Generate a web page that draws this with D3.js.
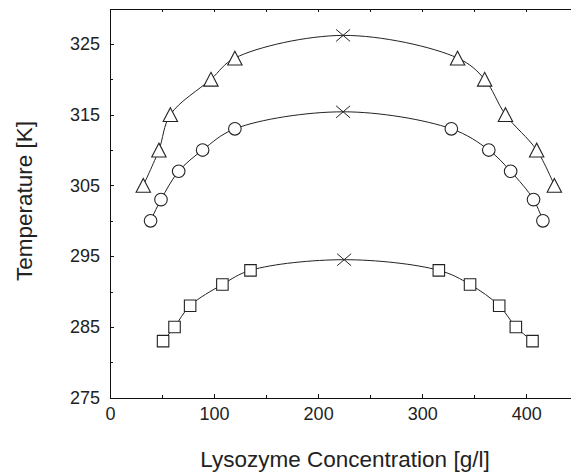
<!DOCTYPE html>
<html>
<head>
<meta charset="utf-8">
<script src="https://cdn.jsdelivr.net/npm/d3@7"></script>
<style>
  body { margin: 0; background: #fff; }
  svg { display: block; font-family: "Liberation Sans", Arial, Helvetica, sans-serif; }
  .axis path, .axis line { stroke: #111; stroke-width: 1; shape-rendering: crispEdges; }
  .axis text { fill: #222; font-size: 18px; }
  .curve { fill: none; stroke: #222; stroke-width: 1; }
  .marker { fill: #fff; stroke: #222; stroke-width: 1.1; }
  .title { fill: #222; font-size: 22.5px; }
</style>
</head>
<body>
<div id="chart"></div>
<script>

// Data: lysozyme concentration [g/l] vs temperature [K]
var triangleConc = [32, 47, 58, 97, 120, 334, 360, 380, 410, 427];
var triangleTemp = [305, 310, 315, 320, 323, 323, 320, 315, 310, 305];

var circleConc = [39, 49, 66, 89, 120, 328, 364, 385, 407, 416];
var circleTemp = [300, 303, 307, 310, 313, 313, 310, 307, 303, 300];

var squareConc = [51, 62, 77, 108, 135, 316, 346, 374, 390, 406];
var squareTemp = [283, 285, 288, 291, 293, 293, 291, 288, 285, 283];

// critical points (crosses), one per curve: triangles, circles, squares
var criticalConc = [224, 224, 225];
var criticalTemp = [326.2, 315.4, 294.5];

var xTicks = [0, 100, 200, 300, 400];
var xMinorTicks = [50, 150, 250, 350];
var yTicks = [275, 285, 295, 305, 315, 325];
var yMinorTicks = [280, 290, 300, 310, 320];

var width = 571, height = 473;
var margin = { top: 8.5, right: 0, bottom: 75, left: 110 };

var svg = d3.select("#chart").append("svg")
    .attr("width", width)
    .attr("height", height);

// Scales
var x = d3.scaleLinear()
    .domain([0, 443])
    .range([margin.left, width - margin.right]);

var y = d3.scaleLinear()
    .domain([275, 330])
    .range([height - margin.bottom - 0.3, margin.top]);

// Axes (ticks point inward)
var xAxis = d3.axisBottom(x).tickValues(xTicks).tickSizeInner(-4).tickSizeOuter(0).tickPadding(10);
var xMinor = d3.axisBottom(x).tickValues(xMinorTicks).tickSizeInner(-2.5).tickSizeOuter(0).tickFormat("");
var xTop = d3.axisTop(x).tickValues(xTicks.concat(xMinorTicks)).tickSizeInner(-3).tickSizeOuter(0).tickFormat("");
var yAxis = d3.axisLeft(y).tickValues(yTicks).tickSizeInner(-4).tickSizeOuter(0).tickPadding(10);
var yMinor = d3.axisLeft(y).tickValues(yMinorTicks).tickSizeInner(-3).tickSizeOuter(0).tickFormat("");

var x0 = margin.left, yBottom = y(275), yTopPx = y(330);

svg.append("g").attr("class", "axis").attr("transform", "translate(0," + yBottom + ")").call(xAxis);
svg.append("g").attr("class", "axis").attr("transform", "translate(0," + yBottom + ")").call(xMinor);
svg.append("g").attr("class", "axis").attr("transform", "translate(0," + yTopPx + ")").call(xTop);
svg.append("g").attr("class", "axis").attr("transform", "translate(" + x0 + ",0)").call(yAxis);
svg.append("g").attr("class", "axis").attr("transform", "translate(" + x0 + ",0)").call(yMinor);

svg.selectAll(".axis .domain").attr("fill", "none");

// Curves through the data and the critical point
function seriesPoints(conc, temp, i) {
    var pts = conc.map(function(c, j) { return { x: c, y: temp[j] }; });
    pts.push({ x: criticalConc[i], y: criticalTemp[i] });
    pts.sort(function(a, b) { return a.x - b.x; });
    return pts;
}

var series = [
    { conc: triangleConc, temp: triangleTemp, shape: "triangle" },
    { conc: circleConc, temp: circleTemp, shape: "circle" },
    { conc: squareConc, temp: squareTemp, shape: "square" }
];

var line = d3.line()
    .x(function(d) { return x(d.x); })
    .y(function(d) { return y(d.y); })
    .curve(d3.curveCatmullRom.alpha(0.5));

series.forEach(function(s, i) {
    svg.append("path")
        .attr("class", "curve")
        .attr("d", line(seriesPoints(s.conc, s.temp, i)));
});

// Marker shapes
var shapes = {
    triangle: "M0,-6.9L7.2,6.9L-7.2,6.9Z",
    square: "M-5.75,-5.75H5.75V5.75H-5.75Z"
};

series.forEach(function(s) {
    var pts = s.conc.map(function(c, j) { return { x: c, y: s.temp[j] }; });
    var g = svg.append("g");
    if (s.shape === "circle") {
        g.selectAll("circle").data(pts).enter().append("circle")
            .attr("class", "marker")
            .attr("cx", function(d) { return x(d.x); })
            .attr("cy", function(d) { return y(d.y); })
            .attr("r", 6.3);
    } else {
        g.selectAll("path").data(pts).enter().append("path")
            .attr("class", "marker")
            .attr("d", shapes[s.shape])
            .attr("transform", function(d) { return "translate(" + x(d.x) + "," + y(d.y) + ")"; });
    }
});

// Crosses at the critical points
svg.selectAll(".cross").data(criticalConc).enter().append("path")
    .attr("class", "curve cross")
    .attr("d", "M-7,-6L7,6M-7,6L7,-6")
    .attr("transform", function(d, i) { return "translate(" + x(d) + "," + y(criticalTemp[i]) + ")"; });

// Axis titles
svg.append("text")
    .attr("class", "title")
    .attr("x", 345)
    .attr("y", 466.5)
    .attr("text-anchor", "middle")
    .text("Lysozyme Concentration [g/l]");

svg.append("text")
    .attr("class", "title")
    .attr("transform", "translate(31.5,201) rotate(-90)")
    .attr("text-anchor", "middle")
    .text("Temperature [K]");

</script>
</body>
</html>
